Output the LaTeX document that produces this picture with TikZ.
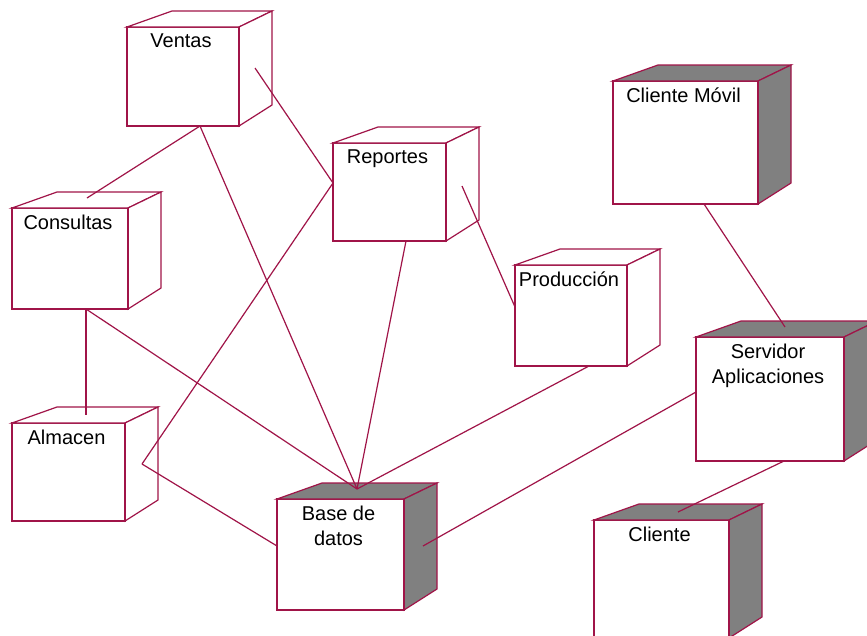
\documentclass[tikz,border=0pt]{standalone}
\usepackage{fontspec}
\setmainfont{Liberation Sans}
\usetikzlibrary{calc}
\definecolor{roseline}{RGB}{160,20,72}
\definecolor{shade}{RGB}{128,128,128}
\tikzset{
  box/.style={draw=roseline, fill=white, line width=1.2pt, inner sep=0pt, outer sep=0pt, anchor=north west},
  lbl/.style={anchor=north, inner sep=0pt, yshift=-7pt, xshift=-2pt, align=center,
              font=\fontsize{20}{25}\selectfont},
  face/.style={draw=roseline, line width=1.2pt, line join=miter},
  link/.style={draw=roseline, line width=1.2pt},
}
% top and side faces of a 3-D deployment node, plus its heavy front edge
\newcommand\nodefaces[2]{%
  \filldraw[face, fill=#2] (#1.north west) -- ++(45,-16) -- ($(#1.north east)+(33,-16)$) -- (#1.north east) -- cycle;
  \filldraw[face, fill=#2] (#1.north east) -- ($(#1.north east)+(33,-16)$) -- ($(#1.south east)+(33,-21)$) -- (#1.south east) -- cycle;
  \draw[roseline, line width=2.6pt] (#1.north east) -- (#1.south east);
}
\begin{document}
\begin{tikzpicture}[x=1pt,y=-1pt]
\clip (0,0) rectangle (867,635);
\fill[white] (0,0) rectangle (867,635);

% front faces
\node[box, minimum width=112pt, minimum height=99pt,  label={[lbl]north:Ventas}]        (ventas)     at (127,27)  {};
\node[box, minimum width=116pt, minimum height=101pt, label={[lbl]north:Consultas}]     (consultas)  at (12,208)  {};
\node[box, minimum width=113pt, minimum height=98pt,  label={[lbl]north:Almacen}]       (almacen)    at (12,423)  {};
\node[box, minimum width=113pt, minimum height=98pt,  label={[lbl]north:Reportes}]      (reportes)   at (333,143) {};
\node[box, minimum width=112pt, minimum height=101pt, label={[lbl]north:Producción}]    (produccion) at (515,265) {};
\node[box, minimum width=145pt, minimum height=123pt, label={[lbl]north:Cliente Móvil}] (movil)      at (613,81)  {};
\node[box, minimum width=127pt, minimum height=111pt, label={[lbl]north:{Base de\\datos}}]        (base)     at (277,499) {};
\node[box, minimum width=148pt, minimum height=124pt, label={[lbl]north:{Servidor\\Aplicaciones}}] (servidor) at (696,337) {};
\node[box, minimum width=135pt, minimum height=118pt, label={[lbl]north:Cliente}]       (cliente)    at (594,520) {};

% depth faces
\nodefaces{ventas}{white}
\nodefaces{consultas}{white}
\nodefaces{almacen}{white}
\nodefaces{reportes}{white}
\nodefaces{produccion}{white}
\nodefaces{movil}{shade}
\nodefaces{base}{shade}
\nodefaces{servidor}{shade}
\nodefaces{cliente}{shade}

% connections
\draw[link] ($(ventas.south west)+(73,0)$) -- ($(consultas.north west)+(75,-10)$);
\draw[link] ($(ventas.south west)+(73,0)$) -- ($(base.north west)+(80,-10)$);
\draw[link] ($(ventas.north east)+(16,41)$) -- ($(reportes.north west)+(0,40)$);
\draw[link] ($(reportes.north west)+(0,40)$) -- ($(almacen.north east)+(17,41)$);
\draw[link] ($(almacen.north east)+(17,41)$) -- ($(base.north west)+(0,47)$);
\draw[link] ($(consultas.south west)+(74,0)$) -- ($(almacen.north west)+(74,-8)$);
\draw[link] ($(consultas.south west)+(74,0)$) -- ($(base.north west)+(80,-10)$);
\draw[link] ($(reportes.south west)+(73,0)$) -- ($(base.north west)+(80,-10)$);
\draw[link] ($(reportes.north east)+(16,43)$) -- ($(produccion.north west)+(0,42)$);
\draw[link] ($(produccion.south west)+(74,0)$) -- ($(base.north west)+(80,-10)$);
\draw[link] ($(servidor.north west)+(0,55)$) -- ($(base.north east)+(19,47)$);
\draw[link] ($(movil.south west)+(91,0)$) -- ($(servidor.north west)+(89,-10)$);
\draw[link] ($(servidor.south west)+(88,0)$) -- ($(cliente.north west)+(84,-8)$);
\end{tikzpicture}
\end{document}
